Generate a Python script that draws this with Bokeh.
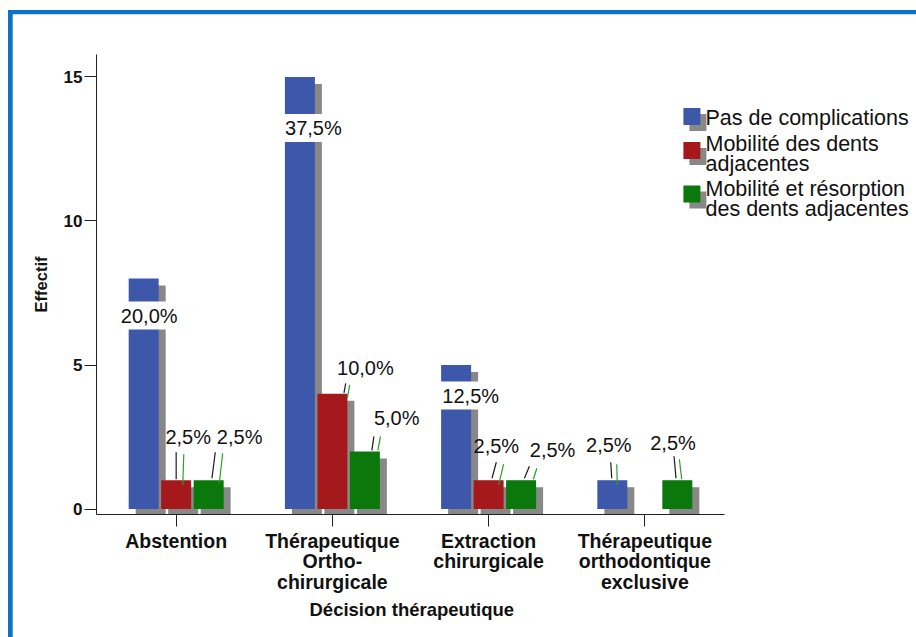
import numpy as np
from bokeh.plotting import figure
from bokeh.models import ColumnDataSource, FixedTicker, Label, Title
from bokeh.embed import file_html
from bokeh.resources import INLINE
from bokeh.core.properties import value

# ---------------- data ----------------
categories = ["Abstention",
              "Thérapeutique\nOrtho-\nchirurgicale",
              "Extraction\nchirurgicale",
              "Thérapeutique\northodontique\nexclusive"]
series_names = ["Pas de complications",
                "Mobilité des dents\nadjacentes",
                "Mobilité et résorption\ndes dents adjacentes"]
pas_de_complications = [8, 15, 5, 1]
mobilite_dents = [1, 4, 1, 0]
mobilite_resorption = [1, 2, 1, 1]
y_ticks = [0, 5, 10, 15]
x_title = "Décision thérapeutique"
y_title = "Effectif"

series_values = [pas_de_complications, mobilite_dents, mobilite_resorption]
total = sum(sum(s) for s in series_values)

# ---------------- style ----------------
colors = ["#3D57AB", "#A5181B", "#0B780B"]
SHADOW = "#888888"
FONT = "Liberation Sans"
W, H = 916, 637
ML, MR, MT, MB = 96, 4, 54, 123
FW, FH = W - ML - MR, H - MT - MB
X0, XAX_END = -0.01, 4.01          # extent of the drawn x axis
XPX = (XAX_END - X0) / 628         # data units per px along x
X1 = X0 + FW * XPX
Y0, Y1 = -0.19, 15.78
YPX = (Y1 - Y0) / FH
BAR_W, BAR_STEP, SH = 0.192, 0.208, 7

# label offsets (px) : dx from bar centre, dy above bar top to label centre
label_dx = [[5.5, 13.5, 14.6, -3.5], [12, 33, 7.7, 0], [31, 31.8, 31.5, -4.3]]
label_dy = [[-37, -51, -30.5, 35], [43, 26.3, 34.7, 0], [43, 33.4, 30, 37.5]]
label_boxed = [[True, True, True, False], [False] * 4, [False] * 4]
# leader lines (px): (dx0, dy0, dx1, dy1)
lead_black = [[None, None, None, (-0.6, 2, -1.6, 18)],
              [(0, 1, 0, 28), (11.6, 1, 13.3, 10.5), (3.4, 2, 7.7, 18), None],
              [(3.3, 2, 6.6, 28), (7, 1, 9, 15), (3.3, 2, 8.3, 14), (-1.3, 2, -3.3, 24)]]
lead_green = [[None, None, None, (5, -5, 4.4, 16)],
              [(6.6, -5, 7.6, 26), (15, -4, 17.3, 9), (10, -5, 15, 16), None],
              [(10.6, -3, 14, 27), (13, 1, 15.6, 15), (12.3, 1, 15.7, 12), (4.4, 1, 2, 21)]]

p = figure(width=W, height=H, x_range=(X0, X1), y_range=(Y0, Y1),
           output_backend="svg", toolbar_location=None,
           min_border_left=ML, min_border_right=MR, min_border_top=MT, min_border_bottom=MB)
p.outline_line_color = None
p.grid.visible = False
p.background_fill_color = "white"
p.border_fill_color = None
# outer blue frame (top and left edges visible)
p.styles = {"box-shadow": "inset 8px 10px 0 0 white, inset 12.7px 14.3px 0 0 #0B72C4",
            "background-color": "white"}

centers = np.arange(len(categories)) + 0.5

def pct(v):
    return f"{v / total * 100:.1f}%".replace(".", ",")

# shadows
for i, vals in enumerate(series_values):
    v = np.array(vals, dtype=float)
    xs = centers + (i - 1) * BAR_STEP
    m = v > 0
    p.vbar(x=xs[m] + SH * XPX, top=v[m] - SH * YPX, bottom=-SH * YPX, width=BAR_W,
           fill_color=SHADOW, line_color=None)
# bars
for i, vals in enumerate(series_values):
    v = np.array(vals, dtype=float)
    xs = centers + (i - 1) * BAR_STEP
    m = v > 0
    p.vbar(x=xs[m], top=v[m], bottom=0, width=BAR_W, fill_color=colors[i], line_color=None)

# leader lines
for leads, col in ((lead_black, "#1a1a1a"), (lead_green, "#2E9E2E")):
    x0s, y0s, x1s, y1s = [], [], [], []
    for i, vals in enumerate(series_values):
        for j, v in enumerate(vals):
            L = leads[i][j]
            if L is None or v <= 0:
                continue
            xc = centers[j] + (i - 1) * BAR_STEP
            x0s.append(xc + L[0] * XPX); y0s.append(v + L[1] * YPX)
            x1s.append(xc + L[2] * XPX); y1s.append(v + L[3] * YPX)
    p.segment(x0=x0s, y0=y0s, x1=x1s, y1=y1s, line_color=col, line_width=1.2)

# value labels
for boxed in (True, False):
    d = dict(x=[], y=[], text=[], dx=[], dy=[])
    for i, vals in enumerate(series_values):
        for j, v in enumerate(vals):
            if v <= 0 or label_boxed[i][j] != boxed:
                continue
            d["x"].append(centers[j] + (i - 1) * BAR_STEP)
            d["y"].append(v)
            d["text"].append(pct(v))
            d["dx"].append(label_dx[i][j])
            d["dy"].append(-label_dy[i][j])
    src = ColumnDataSource(d)
    kw = dict(background_fill_color="white", padding=3) if boxed else {}
    p.text(x="x", y="y", text="text", x_offset="dx", y_offset="dy", source=src,
           text_font=value(FONT), text_font_size=value("20px"), text_color="#111111",
           text_align="center", text_baseline="middle", **kw)

# ---------------- axes ----------------
p.xaxis.ticker = FixedTicker(ticks=list(centers))
p.xaxis.major_label_overrides = {float(c): lab for c, lab in zip(centers, categories)}
p.xaxis.bounds = (X0, XAX_END)
p.yaxis.ticker = FixedTicker(ticks=y_ticks)
for ax in (p.xaxis[0], p.yaxis[0]):
    ax.axis_line_color = "#222222"
    ax.major_tick_line_color = "#222222"
    ax.major_tick_in = 0
    ax.minor_tick_line_color = None
    ax.major_label_text_font = FONT
    ax.major_label_text_font_style = "bold"
    ax.major_label_text_color = "#111111"
    ax.axis_label_text_font = FONT
    ax.axis_label_text_font_style = "bold"
    ax.axis_label_text_color = "#111111"
p.xaxis.major_tick_out = 12
p.xaxis.major_label_text_font_size = "19.5px"
p.xaxis.major_label_text_line_height = 0.95
p.xaxis.major_label_standoff = 3
p.yaxis.major_tick_out = 12
p.yaxis.major_label_text_font_size = "17px"
p.yaxis.major_label_standoff = 2
p.yaxis.axis_label = y_title
p.yaxis.axis_label_text_font_size = "16.5px"
p.yaxis.axis_label_standoff = 11

# x axis title, centred under the drawn axis
p.add_layout(Title(text=x_title, align="left", offset=213, standoff=0,
                   text_font=FONT, text_font_style="bold", text_font_size="18.5px",
                   text_color="#111111"), "below")

# ---------------- legend (drawn manually, inside the frame area) ----------------
FL, FB = ML, MT + FH
def px_x(px):
    return X0 + (px - FL) * XPX
def py_y(py):
    return Y0 + (FB - py) * YPX

leg_sq_y = [116, 150, 193.5]
leg_text_y = [[117.5], [143, 163], [188, 208]]
for i, name in enumerate(series_names):
    p.rect(x=[px_x(691.4 + 6)], y=[py_y(leg_sq_y[i] + 6)], width=17, height=17,
           width_units="screen", height_units="screen", fill_color=SHADOW, line_color=None)
    p.rect(x=[px_x(691.4)], y=[py_y(leg_sq_y[i])], width=17, height=17,
           width_units="screen", height_units="screen", fill_color=colors[i], line_color=None)
    for line, ty in zip(name.split("\n"), leg_text_y[i]):
        p.add_layout(Label(x=px_x(705), y=py_y(ty), text=line, text_font=FONT,
                           text_font_size="21.5px", text_color="#111111",
                           text_align="left", text_baseline="alphabetic"))

open("out.html", "w").write(file_html(p, INLINE))
